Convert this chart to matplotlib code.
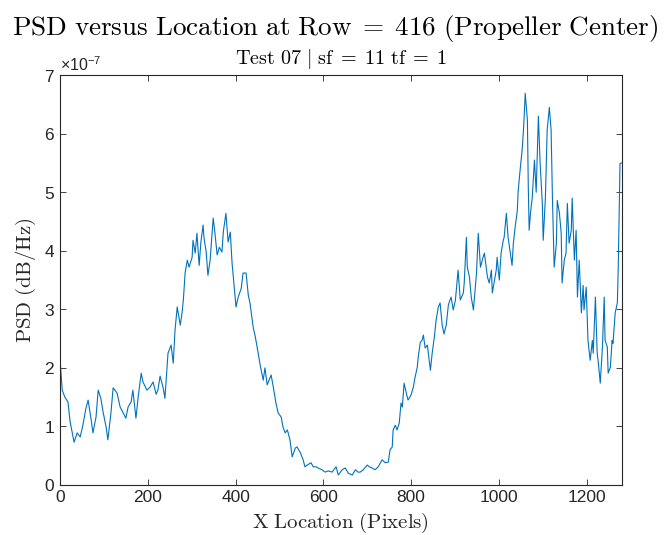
import matplotlib
matplotlib.use('Agg')
import matplotlib.pyplot as plt
from matplotlib.ticker import ScalarFormatter
import numpy as np

# values (x in pixels, PSD in units of 1e-7)
x_loc = [0, 5, 11, 18, 23, 32, 39, 46, 52, 59, 64, 71, 75, 82, 87, 93, 98, 105, 109, 116,
         121, 130, 137, 144, 150, 155, 162, 166, 173, 178, 185, 189, 198, 205, 212, 219, 223, 228, 235, 239,
         246, 253, 258, 262, 267, 274, 278, 281, 285, 290, 294, 301, 303, 308, 312, 317, 321, 326, 328, 333,
         337, 342, 349, 353, 358, 363, 369, 372, 378, 383, 388, 392, 397, 401, 406, 413, 417, 424, 429, 433,
         440, 445, 449, 456, 463, 467, 472, 481, 486, 492, 497, 504, 508, 513, 518, 524, 529, 536, 540, 547,
         554, 558, 563, 572, 577, 584, 588, 597, 604, 611, 620, 629, 634, 643, 650, 657, 666, 673, 679, 684,
         691, 700, 705, 711, 718, 725, 734, 741, 748, 752, 757, 759, 764, 768, 773, 777, 780, 784, 789, 793,
         800, 805, 809, 814, 816, 821, 825, 828, 832, 837, 844, 848, 853, 857, 862, 866, 871, 875, 880, 885,
         891, 896, 901, 905, 907, 912, 919, 921, 926, 928, 933, 937, 942, 949, 953, 958, 964, 967, 974, 978,
         983, 985, 990, 994, 996, 1001, 1005, 1010, 1012, 1017, 1021, 1026, 1030, 1033, 1037, 1042, 1044, 1049, 1053, 1056,
         1058, 1060, 1065, 1067, 1069, 1072, 1076, 1081, 1085, 1090, 1094, 1099, 1101, 1106, 1110, 1115, 1119, 1122, 1126, 1131,
         1133, 1138, 1142, 1144, 1149, 1153, 1156, 1160, 1165, 1167, 1172, 1176, 1179, 1183, 1188, 1192, 1194, 1199, 1203, 1208,
         1213, 1215, 1220, 1224, 1226, 1231, 1236, 1240, 1242, 1247, 1249, 1254, 1258, 1260, 1265, 1270, 1272, 1276, 1279]
psd = [2.15, 1.62, 1.50, 1.42, 1.08, 0.73, 0.89, 0.82, 1.02, 1.31, 1.45, 1.11, 0.89, 1.16, 1.62, 1.48, 1.25, 0.99, 0.77, 1.23,
       1.66, 1.57, 1.33, 1.23, 1.14, 1.33, 1.42, 1.62, 1.14, 1.50, 1.91, 1.76, 1.62, 1.67, 1.76, 1.55, 1.62, 1.86, 1.66, 1.48,
       2.25, 2.39, 2.08, 2.64, 3.04, 2.73, 2.94, 3.16, 3.62, 3.84, 3.72, 3.89, 4.18, 3.96, 4.30, 3.75, 4.15, 4.44, 4.23, 3.98,
       3.58, 3.84, 4.56, 4.30, 3.93, 4.06, 3.98, 4.32, 4.64, 4.15, 4.32, 3.79, 3.38, 3.04, 3.21, 3.36, 3.62, 3.62, 3.24, 3.10,
       2.70, 2.53, 2.36, 2.05, 1.79, 2.00, 1.71, 1.88, 1.67, 1.40, 1.23, 1.16, 0.99, 0.89, 0.94, 0.77, 0.48, 0.63, 0.65, 0.56,
       0.43, 0.31, 0.34, 0.38, 0.31, 0.31, 0.29, 0.26, 0.22, 0.24, 0.22, 0.31, 0.17, 0.26, 0.29, 0.20, 0.17, 0.26, 0.22, 0.22,
       0.26, 0.34, 0.31, 0.29, 0.26, 0.31, 0.43, 0.38, 0.39, 0.60, 0.65, 0.94, 1.02, 0.94, 1.06, 1.40, 1.33, 1.74, 1.57, 1.45,
       1.54, 1.67, 1.84, 2.01, 2.17, 2.44, 2.47, 2.56, 2.34, 2.39, 1.96, 2.25, 2.53, 2.82, 3.04, 3.11, 2.72, 2.58, 2.73, 3.08,
       3.21, 2.99, 3.16, 3.50, 3.67, 3.16, 3.28, 3.45, 4.23, 3.72, 3.55, 3.21, 2.99, 3.62, 4.30, 3.72, 3.89, 3.96, 3.55, 3.45,
       3.67, 3.28, 3.50, 3.67, 3.89, 3.50, 3.96, 4.18, 4.23, 4.64, 4.23, 3.96, 3.75, 4.13, 4.40, 4.69, 5.03, 5.43, 5.72, 6.06,
       6.35, 6.69, 6.23, 5.09, 4.35, 4.64, 4.91, 5.55, 5.00, 6.30, 5.49, 4.81, 4.18, 4.91, 6.06, 6.45, 6.06, 4.91, 3.72, 4.13,
       4.86, 4.64, 4.30, 3.45, 3.84, 3.96, 4.81, 4.13, 4.35, 4.90, 3.84, 4.35, 3.21, 3.84, 2.94, 3.41, 2.99, 3.38, 2.47, 2.13,
       2.47, 2.25, 3.21, 2.25, 2.13, 1.74, 2.36, 3.21, 2.47, 2.36, 1.91, 2.01, 2.47, 2.42, 2.94, 3.11, 3.72, 5.49, 5.50]
psd = np.array(psd) * 1e-7

x_ticks = [0, 200, 400, 600, 800, 1000, 1200]
y_ticks = np.arange(0, 8) * 1e-7

plt.rcParams['font.family'] = ['Liberation Sans', 'DejaVu Sans']
plt.rcParams['mathtext.fontset'] = 'custom'
plt.rcParams['mathtext.rm'] = 'Liberation Sans'
plt.rcParams['mathtext.it'] = 'Liberation Sans:italic'

fig = plt.figure(figsize=(6.7, 5.35), dpi=100)
ax = fig.add_axes([0.0896, 0.0935, 0.8384, 0.766])

ax.plot(x_loc, psd, color='#0072BD', linewidth=0.8)

ax.set_xlim(0, 1280)
ax.set_ylim(0, 7e-7)
ax.set_xticks(x_ticks)
ax.set_yticks(y_ticks)

fmt = ScalarFormatter(useMathText=True)
fmt.set_powerlimits((0, 0))
ax.yaxis.set_major_formatter(fmt)
ax.yaxis.get_offset_text().set_fontsize(11.5)
ax.yaxis.get_offset_text().set_color('#262626')

ax.tick_params(direction='in', top=True, right=True, length=4, width=0.6,
               colors='#262626', labelsize=12.5)
for s in ax.spines.values():
    s.set_color('#262626')
    s.set_linewidth(0.8)

ax.set_xlabel(r'$\mathrm{X\ Location\ (Pixels)}$', fontsize=15, math_fontfamily='cm', color='#262626')
ax.set_ylabel(r'$\mathrm{PSD\ (dB/Hz)}$', fontsize=15, math_fontfamily='cm', color='#262626')
ax.set_title(r'$\mathrm{Test\ 07\ |\ sf\;=\;11\ tf\;=\;1}$', fontsize=14.5, math_fontfamily='cm', pad=8)
fig.suptitle(r'$\mathrm{PSD\ versus\ Location\ at\ Row\;=\;416\ (Propeller\ Center)}$',
             fontsize=19.5, math_fontfamily='cm', y=0.975)

fig.savefig('out.png', dpi=100)
